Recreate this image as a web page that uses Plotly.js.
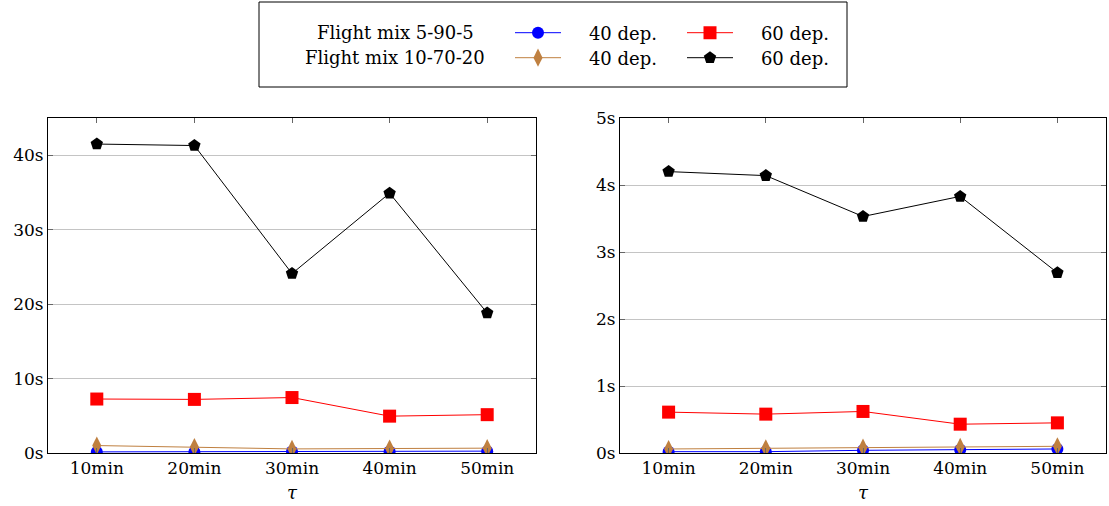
<!DOCTYPE html>
<html>
<head>
<meta charset="utf-8">
<script src="https://cdn.plot.ly/plotly-3.0.1.min.js"></script>
<style>html,body{margin:0;padding:0;background:#fff}#chart{width:1109px;height:506px}</style>
</head>
<body>
<div id="chart"></div>
<script>
// ---- data ----
var categories = ["10min", "20min", "30min", "40min", "50min"];
var rowLabels = ["Flight mix 5-90-5", "Flight mix 10-70-20"];
var seriesNames = ["40 dep.", "60 dep."];

// left panel (seconds)
var left_5905_40 = [0.15, 0.15, 0.2, 0.2, 0.25];
var left_5905_60 = [7.25, 7.2, 7.45, 4.95, 5.15];
var left_107020_40 = [1.0, 0.8, 0.55, 0.6, 0.65];
var left_107020_60 = [41.5, 41.3, 24.1, 34.9, 18.8];

// right panel (seconds)
var right_5905_40 = [0.02, 0.02, 0.04, 0.05, 0.06];
var right_5905_60 = [0.61, 0.58, 0.62, 0.43, 0.45];
var right_107020_40 = [0.06, 0.07, 0.08, 0.09, 0.10];
var right_107020_60 = [4.2, 4.14, 3.53, 3.83, 2.69];

var leftTicks = [0, 10, 20, 30, 40];
var rightTicks = [0, 1, 2, 3, 4, 5];

// ---- styles ----
var FONT = "DejaVu Serif";
var styles = [
  {color: "#0000ff", symbol: "circle", size: 12, legend: "legend"},
  {color: "#ff0000", symbol: "square", size: 13, legend: "legend"},
  {color: "#bf8040", symbol: "diamond-tall", size: 13, legend: "legend2"},
  {color: "#000000", symbol: "pentagon", size: 13, legend: "legend2"}
];
var pad = "\u00a0\u00a0\u00a0\u00a0";
var leftSeries = [left_5905_40, left_5905_60, left_107020_40, left_107020_60];
var rightSeries = [right_5905_40, right_5905_60, right_107020_40, right_107020_60];
var names = [seriesNames[0], seriesNames[1], seriesNames[0], seriesNames[1]];

var traces = [];
function mk(ys, i, xa, ya, show) {
  var s = styles[i];
  return {
    x: categories, y: ys, xaxis: xa, yaxis: ya,
    type: "scatter", mode: "lines+markers",
    name: pad + names[i],
    legend: s.legend,
    showlegend: show,
    line: {color: s.color, width: 1},
    marker: {color: s.color, symbol: s.symbol, size: s.size, line: {width: 0}},
    hoverinfo: "x+y"
  };
}
for (var i = 0; i < 4; i++) traces.push(mk(leftSeries[i], i, "x", "y", true));
for (var j = 0; j < 4; j++) traces.push(mk(rightSeries[j], j, "x2", "y2", false));

var W = 1109, H = 506, mL = 48, mR = 3, mT = 118, mB = 53;
var pw = W - mL - mR, ph = H - mT - mB;
function px(x) { return (x - mL) / pw; }
function py(y) { return (H - mB - y) / ph; }

function xax(domain, anchor) {
  return {
    domain: domain, anchor: anchor, type: "category",
    range: [-0.5, 4.5], showgrid: false, zeroline: false,
    showline: true, linecolor: "#000", linewidth: 1, mirror: "allticks",
    ticks: "inside", ticklen: 5, tickcolor: "#666", tickwidth: 1,
    tickfont: {family: FONT, size: 17, color: "#000"},
    title: {text: "<i>τ</i>", font: {family: FONT, size: 18, color: "#000"}, standoff: 8},
    automargin: false, fixedrange: true
  };
}
function yax(range, ticks, anchor) {
  return {
    anchor: anchor, range: range, tickmode: "array", tickvals: ticks,
    ticktext: ticks.map(function (t) { return t + "s"; }),
    showgrid: true, gridcolor: "#c4c4c4", gridwidth: 1, zeroline: false,
    showline: true, linecolor: "#000", linewidth: 1, mirror: "allticks",
    ticks: "inside", ticklen: 5, tickcolor: "#666", tickwidth: 1,
    tickfont: {family: FONT, size: 17, color: "#000"},
    automargin: false, fixedrange: true
  };
}

var legendCommon = {
  orientation: "h", xref: "container", yref: "container",
  xanchor: "left", yanchor: "middle", bgcolor: "rgba(0,0,0,0)", borderwidth: 0,
  font: {family: FONT, size: 18, color: "#000"},
  itemwidth: 46, entrywidth: 111, entrywidthmode: "pixels",
  traceorder: "normal", itemclick: false, itemdoubleclick: false
};
var legend1 = Object.assign({}, legendCommon, {x: 510 / W, y: 1 - 33 / H});
var legend2 = Object.assign({}, legendCommon, {x: 510 / W, y: 1 - 58 / H});

var layout = {
  width: W, height: H,
  margin: {l: mL, r: mR, t: mT, b: mB},
  paper_bgcolor: "#fff", plot_bgcolor: "#fff",
  font: {family: FONT, color: "#000"},
  xaxis: xax([0, px(536)], "y"),
  yaxis: yax([0, 45], leftTicks, "x"),
  xaxis2: xax([px(620), 1], "y2"),
  yaxis2: yax([0, 5], rightTicks, "x2"),
  legend: legend1,
  legend2: legend2,
  shapes: [{
    type: "rect", xref: "paper", yref: "paper",
    x0: px(259), x1: px(847), y0: py(87), y1: py(2),
    line: {color: "#000", width: 1}, fillcolor: "rgba(0,0,0,0)"
  }],
  annotations: [
    {text: rowLabels[0], xref: "paper", yref: "paper", x: px(395), y: py(33),
     xanchor: "center", yanchor: "middle", showarrow: false,
     font: {family: FONT, size: 18, color: "#000"}},
    {text: rowLabels[1], xref: "paper", yref: "paper", x: px(395), y: py(58),
     xanchor: "center", yanchor: "middle", showarrow: false,
     font: {family: FONT, size: 18, color: "#000"}}
  ],
  showlegend: true
};

Plotly.newPlot("chart", traces, layout, {displayModeBar: false, staticPlot: true});
</script>
</body>
</html>
